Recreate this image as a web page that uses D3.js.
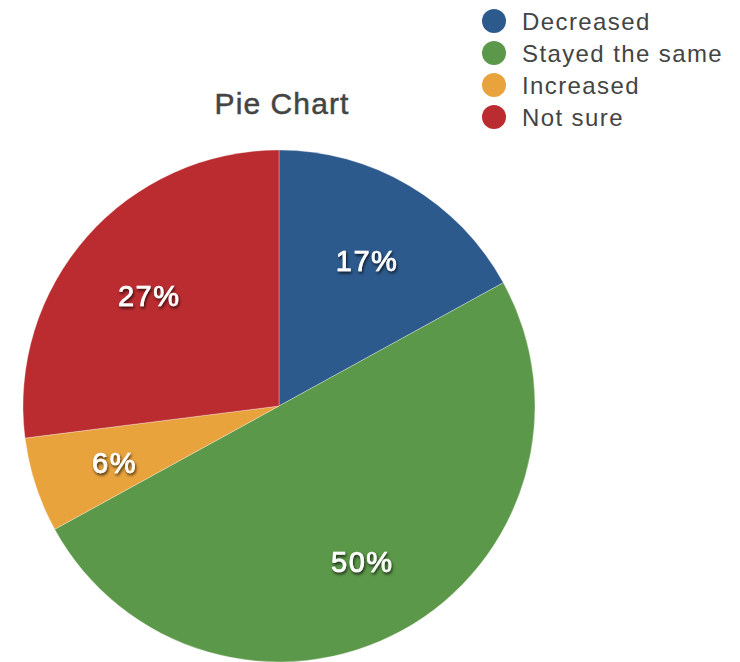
<!DOCTYPE html>
<html><head><meta charset="utf-8">
<script src="https://cdn.jsdelivr.net/npm/d3@7"></script>
<style>html,body{margin:0;padding:0;background:#fff;}svg{display:block;}</style>
</head><body>
<svg id="chart" width="740" height="662"></svg>
<script>
const categories = ["Decreased", "Stayed the same", "Increased", "Not sure"];
const values = [17, 50, 6, 27];
const colors = ["#2D5A8D", "#5C9849", "#E9A33D", "#BB2C30"];
const title = "Pie Chart";

const svg = d3.select("#chart");
const font = "'Helvetica Neue', Helvetica, 'Liberation Sans', Arial, sans-serif";
const cx = 279, cy = 406, R = 256, labelR = 173;

const defs = svg.append("defs");
const f = defs.append("filter").attr("id", "shadow").attr("x", "-20%").attr("y", "-20%").attr("width", "140%").attr("height", "160%");
f.append("feDropShadow").attr("dx", 1).attr("dy", 2).attr("stdDeviation", 1.6).attr("flood-color", "#000").attr("flood-opacity", 0.75);

const data = categories.map((c, i) => ({ cat: c, value: values[i], color: colors[i] }));
const pie = d3.pie().value(d => d.value).sort(null);
const arc = d3.arc().innerRadius(0).outerRadius(R);
const labelArc = d3.arc().innerRadius(labelR).outerRadius(labelR);
const total = d3.sum(values);

const g = svg.append("g").attr("transform", `translate(${cx},${cy})`);
const arcs = pie(data);
g.selectAll("path").data(arcs).join("path")
  .attr("d", arc).attr("fill", d => d.data.color)
  .attr("stroke", "#fff").attr("stroke-width", 0.3);

g.selectAll("text").data(arcs).join("text")
  .attr("transform", d => `translate(${labelArc.centroid(d)})`)
  .attr("text-anchor", "middle").attr("dy", 14)
  .attr("font-family", font).attr("font-size", 29).attr("font-weight", "normal")
  .attr("letter-spacing", 1.5)
  .attr("fill", "#fff").attr("stroke", "#fff").attr("stroke-width", 0.7)
  .attr("filter", "url(#shadow)")
  .text(d => Math.round(d.data.value / total * 100) + "%");

svg.append("text").attr("x", 282).attr("y", 114).attr("text-anchor", "middle")
  .attr("font-family", font).attr("font-size", 30).attr("fill", "#444")
  .attr("stroke", "#444").attr("stroke-width", 0.5)
  .attr("letter-spacing", 1.1)
  .text(title);

const leg = svg.append("g").selectAll("g").data(data).join("g")
  .attr("transform", (d, i) => `translate(494,${21 + i * 32})`);
leg.append("circle").attr("r", 12).attr("fill", d => d.color);
leg.append("text").attr("x", 28).attr("y", 8.5)
  .attr("font-family", font).attr("font-size", 24).attr("fill", "#444")
  .attr("letter-spacing", 1.4)
  .text(d => d.cat);
</script>
</body></html>
